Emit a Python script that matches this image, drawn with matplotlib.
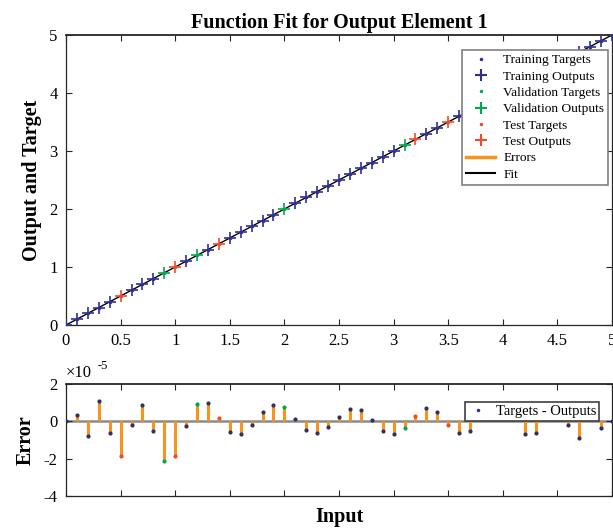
import matplotlib
matplotlib.use("Agg")
import matplotlib.pyplot as plt
from matplotlib.lines import Line2D
import numpy as np

plt.rcParams['font.family'] = ['Liberation Serif', 'DejaVu Serif']
plt.rcParams['axes.unicode_minus'] = False

# ---------------- data ----------------
inputs = [0.0, 0.1, 0.2, 0.3, 0.4, 0.5, 0.6, 0.7, 0.8, 0.9,
          1.0, 1.1, 1.2, 1.3, 1.4, 1.5, 1.6, 1.7, 1.8, 1.9,
          2.0, 2.1, 2.2, 2.3, 2.4, 2.5, 2.6, 2.7, 2.8, 2.9,
          3.0, 3.1, 3.2, 3.3, 3.4, 3.5, 3.6, 3.7, 3.8, 3.9,
          4.0, 4.1, 4.2, 4.3, 4.4, 4.5, 4.6, 4.7, 4.8, 4.9, 5.0]
targets = [0.0, 0.1, 0.2, 0.3, 0.4, 0.5, 0.6, 0.7, 0.8, 0.9,
           1.0, 1.1, 1.2, 1.3, 1.4, 1.5, 1.6, 1.7, 1.8, 1.9,
           2.0, 2.1, 2.2, 2.3, 2.4, 2.5, 2.6, 2.7, 2.8, 2.9,
           3.0, 3.1, 3.2, 3.3, 3.4, 3.5, 3.6, 3.7, 3.8, 3.9,
           4.0, 4.1, 4.2, 4.3, 4.4, 4.5, 4.6, 4.7, 4.8, 4.9, 5.0]
# errors (targets - outputs) in units of 1e-5
errors_e5 = [0.0, 0.35, -0.8, 1.1, -0.6, -1.85, -0.2, 0.85, -0.5, -2.15,
             -1.85, -0.25, 0.95, 1.0, 0.2, -0.55, -0.7, -0.2, 0.5, 0.9,
             0.75, 0.15, -0.45, -0.65, -0.3, 0.25, 0.65, 0.6, 0.05, -0.5,
             -0.7, -0.35, 0.3, 0.7, 0.5, -0.2, -0.65, -0.5, 0.4, 0.6,
             0.3, 0.5, -0.7, -0.65, 0.2, 0.4, -0.2, -0.9, 0.3, -0.35, 0.0]
validation_inputs = [0.9, 1.2, 2.0, 3.1, 3.9, 4.1, 4.5]
test_inputs = [0.5, 1.0, 1.4, 3.2, 3.5, 3.8, 4.0, 4.4]

x = np.array(inputs)
t = np.array(targets)
e = np.array(errors_e5)
o = t - e * 1e-5
val_mask = np.isin(np.round(x, 1), validation_inputs)
test_mask = np.isin(np.round(x, 1), test_inputs)
train_mask = ~(val_mask | test_mask)

c_train = '#2f2f96'
c_val = '#00a84f'
c_test = '#f04a2a'
c_err = '#f7941d'

W, H = 613, 530
fig = plt.figure(figsize=(W / 100, H / 100), dpi=100)

ax1 = fig.add_axes([66 / W, 1 - 325 / H, 546 / W, 290 / H])
ax2 = fig.add_axes([66 / W, 1 - 496 / H, 546 / W, 112 / H])

# ---------------- top plot ----------------
ax1.plot(x, o, color='black', lw=1.0, zorder=2)
for m, c in [(train_mask, c_train), (val_mask, c_val), (test_mask, c_test)]:
    ax1.plot(x[m], t[m], '.', color=c, ms=3, zorder=3)
    ax1.plot(x[m], o[m], '+', color=c, ms=8, mew=1.2, zorder=3)

ax1.set_xlim(0, 5)
ax1.set_ylim(0, 5)
ax1.set_xticks([0, 0.5, 1, 1.5, 2, 2.5, 3, 3.5, 4, 4.5, 5])
ax1.set_xticklabels(['0', '0.5', '1', '1.5', '2', '2.5', '3', '3.5', '4', '4.5', '5'])
ax1.set_yticks([0, 1, 2, 3, 4, 5])
ax1.set_title('Function Fit for Output Element 1', fontsize=14.5, fontweight='bold', pad=5)
ax1.set_ylabel('Output and Target', fontsize=14.5, fontweight='bold', labelpad=5)

handles = [
    Line2D([], [], ls='none', marker='.', color=c_train, ms=3),
    Line2D([], [], ls='none', marker='+', color=c_train, ms=8, mew=1.5),
    Line2D([], [], ls='none', marker='.', color=c_val, ms=3),
    Line2D([], [], ls='none', marker='+', color=c_val, ms=8, mew=1.5),
    Line2D([], [], ls='none', marker='.', color=c_test, ms=3),
    Line2D([], [], ls='none', marker='+', color=c_test, ms=8, mew=1.5),
    Line2D([], [], color=c_err, lw=2.5),
    Line2D([], [], color='black', lw=1.5),
]
labels = ['Training Targets', 'Training Outputs', 'Validation Targets',
          'Validation Outputs', 'Test Targets', 'Test Outputs', 'Errors', 'Fit']
leg1 = ax1.legend(handles, labels, loc='upper right', bbox_to_anchor=(0.993, 0.948),
                  fontsize=9.6, labelspacing=0.3, handlelength=2.2, handletextpad=0.6,
                  borderpad=0.3, fancybox=False, framealpha=1, edgecolor='#808080',
                  borderaxespad=0)
leg1.get_frame().set_linewidth(1.2)

# ---------------- error plot ----------------
ax2.axhline(0, color='#8a8a8a', lw=1.8, zorder=1)
ax2.vlines(x, 0, e, color=c_err, lw=2.2, zorder=2)
for m, c in [(train_mask, '#303060'), (val_mask, c_val), (test_mask, c_test)]:
    ax2.plot(x[m], e[m], '.', color=c, ms=4, zorder=3)

ax2.set_xlim(0, 5)
ax2.set_ylim(-4, 2)
ax2.set_xticks([0, 0.5, 1, 1.5, 2, 2.5, 3, 3.5, 4, 4.5, 5])
ax2.set_xticklabels([])
ax2.set_yticks([-4, -2, 0, 2])
ax2.set_ylabel('Error', fontsize=14.5, fontweight='bold', labelpad=6)
ax2.set_xlabel('Input', fontsize=14.5, fontweight='bold', labelpad=2)
ax2.text(0.0, 1.03, '\u00d710', transform=ax2.transAxes, fontsize=12, ha='left', va='bottom')
ax2.text(0.057, 1.11, '-5', transform=ax2.transAxes, fontsize=9, ha='left', va='bottom')

leg2 = ax2.legend([Line2D([], [], ls='none', marker='.', color=c_train, ms=3)],
                  ['Targets - Outputs'], loc='lower left', bbox_to_anchor=(0.731, 0.667),
                  fontsize=10.5, fancybox=False, framealpha=1, edgecolor='#404040',
                  borderpad=0.2, handlelength=1.4, handletextpad=0.5, borderaxespad=0)
leg2.get_frame().set_linewidth(1.2)

for ax in (ax1, ax2):
    ax.tick_params(direction='in', top=True, right=True, length=4, width=0.8,
                   labelsize=12, colors='#262626', labelcolor='black', pad=6)
    for s in ax.spines.values():
        s.set_color('#262626')
        s.set_linewidth(0.9)
ax1.spines['top'].set_linewidth(1.3)
ax2.spines['top'].set_linewidth(1.3)

fig.savefig('out.png', dpi=100)
